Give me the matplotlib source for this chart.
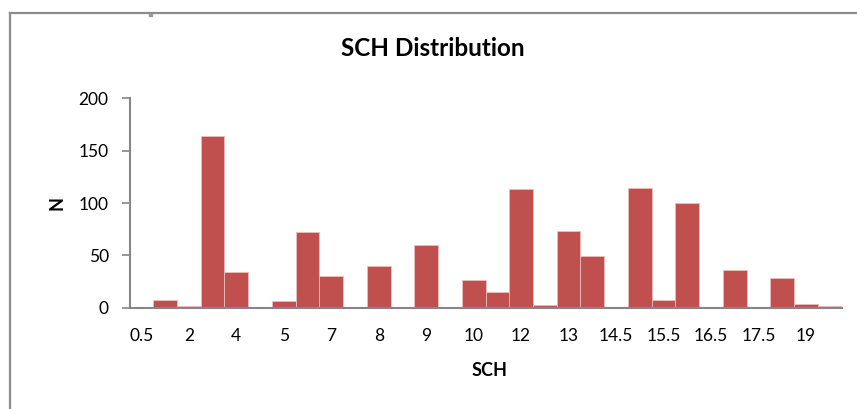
import matplotlib
matplotlib.use("Agg")
import matplotlib.pyplot as plt
import numpy as np
from matplotlib.lines import Line2D

# Data
counts = [0, 7, 2, 164, 34, 0, 6, 72, 30, 0, 40, 1, 60, 0, 26, 15,
          113, 3, 73, 49, 0, 114, 7, 100, 0, 36, 0, 28, 4, 2]
tick_labels = ["0.5", "2", "4", "5", "7", "8", "9", "10", "12", "13",
               "14.5", "15.5", "16.5", "17.5", "19"]
y_ticks = [0, 50, 100, 150, 200]

W, H = 857, 409
plt.rcParams['font.family'] = ['Lato', 'DejaVu Sans']
fig = plt.figure(figsize=(W / 100, H / 100), dpi=100)

def fx(px):
    return px / W

def fy(py):
    return 1 - py / H

# chart border (top and left visible)
fig.add_artist(Line2D([fx(10), fx(10)], [fy(13), 0], color='#8c8c8c', lw=1.6,
                      transform=fig.transFigure))
fig.add_artist(Line2D([fx(10), 1], [fy(13), fy(13)], color='#8c8c8c', lw=1.6,
                      transform=fig.transFigure))
# tiny handle mark
fig.add_artist(plt.Rectangle((fx(149), fy(16)), fx(3), 2 / H, color='#9a9a9a',
                             transform=fig.transFigure))

left, right, top, bottom = 129.5, 841.5, 98.3, 307.7
ax = fig.add_axes([fx(left), fy(bottom), fx(right - left), (bottom - top) / H])

x = np.arange(len(counts))
ax.bar(x, counts, width=1.0, color='#C0504D', edgecolor='#E8C0BF', linewidth=0.6)

ax.set_xlim(-0.5, len(counts) - 0.5)
ax.set_ylim(0, 200)
ax.set_yticks(y_ticks)
ax.set_xticks(x[::2])
ax.set_xticklabels(tick_labels)

for s in ['top', 'right']:
    ax.spines[s].set_visible(False)
for s in ['left', 'bottom']:
    ax.spines[s].set_color('#868686')
    ax.spines[s].set_linewidth(1.5)

ax.tick_params(axis='y', length=6, width=1.2, color='#868686', pad=9,
               labelsize=12.5, labelcolor='black')
ax.tick_params(axis='x', length=0, pad=14.5, labelsize=12.5, labelcolor='black')

fig.text(fx(433), fy(49), "SCH Distribution", ha='center', va='center',
         fontsize=17.5, fontweight='bold')
fig.text(fx(490), fy(370), "SCH", ha='center', va='center',
         fontsize=13, fontweight='bold')
fig.text(fx(57), fy(203), "N", ha='center', va='center', rotation=90,
         fontsize=13, fontweight='bold')

fig.savefig("out.png", dpi=100)
